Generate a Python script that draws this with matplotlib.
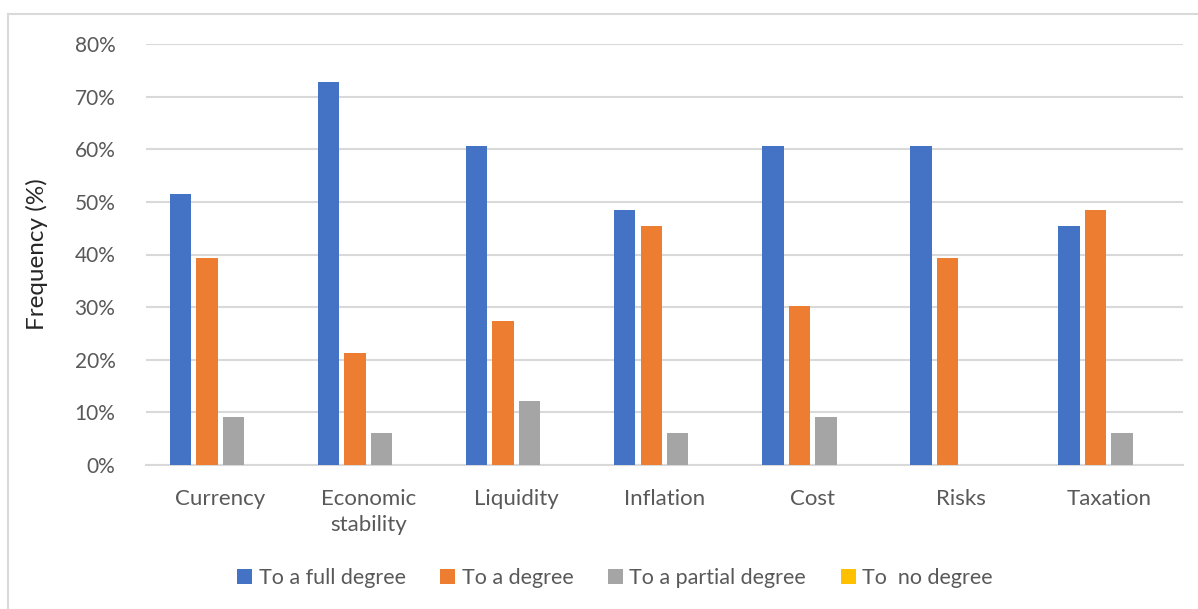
import numpy as np
import matplotlib.pyplot as plt
from matplotlib.lines import Line2D

categories = ["Currency", "Economic\nstability", "Liquidity", "Inflation", "Cost", "Risks", "Taxation"]
series = ["To a full degree", "To a degree", "To a partial degree", "To  no degree"]
full_degree = [51.5, 72.7, 60.6, 48.5, 60.6, 60.6, 45.5]
a_degree = [39.4, 21.2, 27.3, 45.5, 30.3, 39.4, 48.5]
partial_degree = [9.1, 6.1, 12.1, 6.1, 9.1, 0, 6.1]
no_degree = [0, 0, 0, 0, 0, 0, 0]
colors = ["#4472c4", "#ed7d31", "#a5a5a5", "#ffc000"]

plt.rcParams['font.family'] = ['Lato', 'DejaVu Sans']

fig = plt.figure(figsize=(11.98, 6.09), dpi=100)
ax = fig.add_axes([146/1198, 1-465/609, (1183-146)/1198, (465-44)/609])

x = np.arange(len(categories))
slot = 0.179
width = 0.145
data = [full_degree, a_degree, partial_degree, no_degree]
for i, (vals, name, c) in enumerate(zip(data, series, colors)):
    ax.bar(x + (i - 1.5) * slot, vals, width, color=c, label=name, zorder=3)

ax.set_xlim(-0.5, len(categories) - 0.5)
ax.set_ylim(0, 80)
ax.set_yticks(range(0, 81, 10))
ax.set_yticklabels([f"{v}%" for v in range(0, 81, 10)])
ax.set_xticks(x)
ax.set_xticklabels(categories, linespacing=1.4)
ax.tick_params(axis='y', length=0, labelsize=15, colors='#595959', pad=22)
ax.tick_params(axis='x', length=0, labelsize=16, colors='#595959', pad=17)
ax.grid(axis='y', color='#d9d9d9', linewidth=1.5, zorder=0)
for s in ['top', 'right', 'left']:
    ax.spines[s].set_visible(False)
ax.spines['bottom'].set_color('#d9d9d9')
ax.spines['bottom'].set_linewidth(1.5)
ax.set_ylabel("Frequency (%)", fontsize=17.5, color='#262626', labelpad=19)

fig.legend(loc='center', bbox_to_anchor=(615/1198, 1-578/609), ncol=4, frameon=False,
           fontsize=15.5, labelcolor='#595959', handlelength=0.7, handleheight=0.7,
           handletextpad=0.3, columnspacing=1.6)

# chart frame
fig.add_artist(Line2D([8/1198, 8/1198], [0, 1-14/609], color='#d9d9d9', linewidth=1.5))
fig.add_artist(Line2D([8/1198, 1], [1-14/609, 1-14/609], color='#d9d9d9', linewidth=1.5))

fig.savefig("out.png", dpi=100)
